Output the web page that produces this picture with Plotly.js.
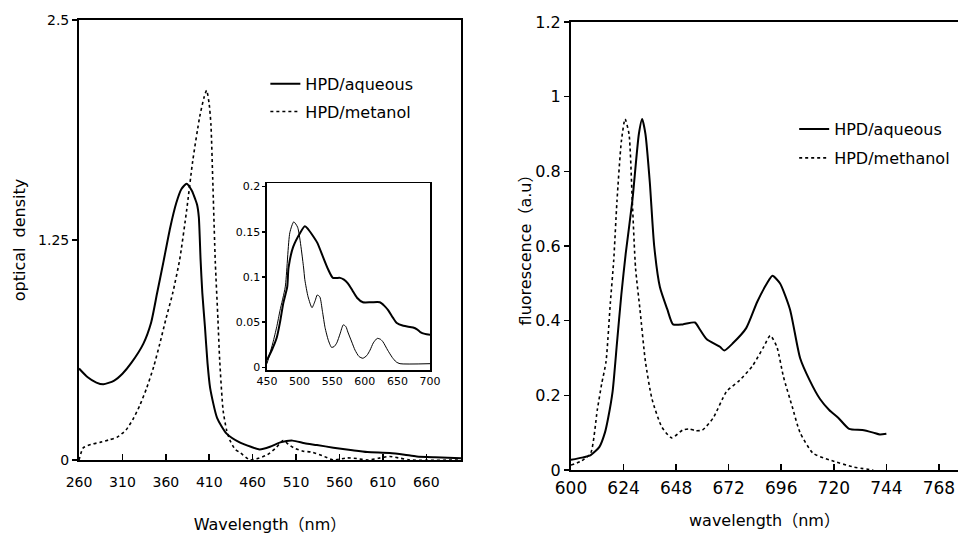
<!DOCTYPE html>
<html>
<head>
<meta charset="utf-8">
<script src="https://cdn.plot.ly/plotly-3.0.1.min.js"></script>
<style>html,body{margin:0;padding:0;background:#fff;overflow:hidden;}#chart{width:958px;height:534px;}</style>
</head>
<body>
<div id="chart"></div>
<script>
// ---- Absorption spectra (left panel) ----
const absWlAqueous = [260,270,280,288,300,310,320,334,343,350,357,365,372,378,384,390,394,396,398,400,402,405,408,411,419,430,445,458,468,480,492,506,520,534,553,575,592,618,635,649,670,700];
const absOdAqueous = [0.52,0.47,0.44,0.43,0.45,0.49,0.55,0.66,0.78,0.95,1.12,1.32,1.46,1.54,1.57,1.53,1.48,1.45,1.38,1.14,0.95,0.76,0.55,0.41,0.24,0.15,0.10,0.075,0.06,0.075,0.10,0.11,0.095,0.085,0.07,0.055,0.045,0.04,0.03,0.02,0.015,0.01];
const absWlMethanol = [260,265,275,284,295,304,314,322,330,338,346,353,360,368,376,384,391,399,404,407,410,412,414,417,420,422,426,430,434,440,446,457,467,477,487,495,501,507,518,528,540,553,569,580,592,605,618,630,641,700];
const absOdMethanol = [0.0,0.07,0.09,0.10,0.115,0.13,0.17,0.23,0.31,0.41,0.53,0.66,0.80,0.95,1.14,1.42,1.70,1.95,2.06,2.10,2.02,1.90,1.60,1.12,0.80,0.57,0.28,0.17,0.11,0.06,0.04,0.0,0.01,0.03,0.07,0.11,0.09,0.07,0.05,0.045,0.025,0.0,0.012,0.008,0.0,0.01,0.02,0.01,0.0,0.0];

// ---- Inset (450-700 nm zoom) ----
const insetWlAqueous = [450,458,465,470,475,481,483,490,501,508,513,519,527,536,544,551,562,568,574,581,588,597,610,623,630,636,643,649,659,674,680,685,692,700];
const insetOdAqueous = [0.008,0.02,0.033,0.05,0.071,0.089,0.11,0.133,0.149,0.156,0.153,0.147,0.138,0.122,0.108,0.099,0.099,0.097,0.093,0.085,0.077,0.072,0.072,0.072,0.068,0.063,0.055,0.049,0.046,0.044,0.042,0.039,0.037,0.036];
const insetWlMethanol = [450,459,465,470,478,485,491,497,506,508,513,519,524,527,531,535,539,544,549,553,557,562,567,571,574,580,585,591,597,603,608,613,619,624,628,635,642,648,654,700];
const insetOdMethanol = [0.004,0.027,0.045,0.063,0.089,0.149,0.161,0.155,0.111,0.097,0.078,0.066,0.074,0.080,0.078,0.062,0.044,0.030,0.022,0.023,0.027,0.037,0.047,0.045,0.039,0.028,0.019,0.012,0.010,0.013,0.019,0.027,0.032,0.031,0.028,0.019,0.011,0.006,0.004,0.004];

// ---- Fluorescence spectra (right panel) ----
const flWlAqueous = [600,605,609,613,615.5,617,619,621,623,625,628,631,632.5,634,636,638,640.6,644,646.6,651,656.6,659,662,668,670,674,680,685,689.5,692,695.4,700,704.6,709,713.7,718,722,727,733,738,741,744];
const flAqueous = [0.027,0.033,0.040,0.062,0.10,0.14,0.21,0.34,0.47,0.58,0.72,0.90,0.94,0.90,0.77,0.60,0.49,0.43,0.39,0.39,0.395,0.375,0.35,0.33,0.32,0.34,0.38,0.45,0.50,0.52,0.50,0.43,0.30,0.24,0.19,0.16,0.14,0.11,0.107,0.10,0.095,0.097];
const flWlMethanol = [600,605,609,612,614,616,618,619.5,621,623,624.7,626.5,628,629.5,631.5,634,637,641.5,646,651,654,657,660,665,671,677,683,688,691,694,697,701,704.6,710.5,718,729,738];
const flMethanol = [0.013,0.025,0.045,0.16,0.23,0.29,0.45,0.56,0.72,0.88,0.94,0.90,0.72,0.54,0.43,0.29,0.19,0.115,0.086,0.107,0.11,0.105,0.107,0.14,0.21,0.24,0.28,0.33,0.36,0.33,0.25,0.17,0.10,0.045,0.027,0.008,0.0];

// ---- Tick labels ----
const absTicks = [260,310,360,410,460,510,560,610,660];
const odTicks = [0,1.25,2.5];
const odTickText = ['0','1.25','2.5'];
const insetXTicks = [450,500,550,600,650,700];
const insetYTicks = [0,0.05,0.1,0.15,0.2];
const insetYTickText = ['0','0.05','0.1','0.15','0.2'];
const flTicks = [600,624,648,672,696,720,744,768];
const flYTicks = [0,0.2,0.4,0.6,0.8,1,1.2];

const FONT = 'DejaVu Sans, Liberation Sans, Noto Sans CJK JP, sans-serif';
const solid = {color:'#000', width:2, shape:'spline', smoothing:0.6};
const dotted = {color:'#000', width:1.6, dash:'dot', shape:'spline', smoothing:0.6};

const traces = [
  {x:absWlAqueous, y:absOdAqueous, type:'scatter', mode:'lines', name:'HPD/aqueous', line:solid, xaxis:'x', yaxis:'y', legend:'legend', legendgroup:'a1'},
  {x:absWlMethanol, y:absOdMethanol, type:'scatter', mode:'lines', name:'HPD/metanol', line:dotted, xaxis:'x', yaxis:'y', legend:'legend', legendgroup:'a2'},
  {x:insetWlAqueous, y:insetOdAqueous, type:'scatter', mode:'lines', name:'inset aqueous', line:{color:'#000', width:2, shape:'spline', smoothing:0.6}, xaxis:'x3', yaxis:'y3', showlegend:false},
  {x:insetWlMethanol, y:insetOdMethanol, type:'scatter', mode:'lines', name:'inset methanol', line:{color:'#000', width:1, shape:'spline', smoothing:0.6}, xaxis:'x3', yaxis:'y3', showlegend:false},
  {x:flWlAqueous, y:flAqueous, type:'scatter', mode:'lines', name:'HPD/aqueous', line:solid, xaxis:'x2', yaxis:'y2', legend:'legend2', legendgroup:'f1'},
  {x:flWlMethanol, y:flMethanol, type:'scatter', mode:'lines', name:'HPD/methanol', line:dotted, xaxis:'x2', yaxis:'y2', legend:'legend2', legendgroup:'f2'}
];

const axBase = {showgrid:false, zeroline:false, showline:true, linecolor:'#000', linewidth:2, tickcolor:'#000', tickwidth:1.5, automargin:false};

const layout = {
  width:958, height:534,
  margin:{l:0, r:0, t:0, b:0, autoexpand:false},
  paper_bgcolor:'#fff', plot_bgcolor:'#fff',
  font:{family:FONT, color:'#000'},
  xaxis: Object.assign({}, axBase, {
    domain:[0.0825,0.4812], range:[260,700], anchor:'y', mirror:true,
    tickvals:absTicks, ticks:'inside', ticklen:6, ticklabelstandoff:8,
    tickfont:{family:FONT, size:14},
    title:{text:'Wavelength（nm）', font:{family:FONT, size:16}, standoff:30}
  }),
  yaxis: Object.assign({}, axBase, {
    domain:[0.1386,0.9625], range:[0,2.5], anchor:'x', mirror:true,
    tickvals:odTicks, ticktext:odTickText, ticks:'outside', ticklen:5,
    tickfont:{family:FONT, size:14},
    title:{text:'optical  density', font:{family:FONT, size:16}, standoff:8}
  }),
  xaxis3: Object.assign({}, axBase, {
    domain:[0.2787,0.4489], range:[450,700], anchor:'y3', mirror:true, linewidth:1.5,
    tickvals:insetXTicks, ticks:'', tickfont:{family:FONT, size:11}
  }),
  yaxis3: Object.assign({}, axBase, {
    domain:[0.3071,0.6573], range:[-0.003,0.204], anchor:'x3', mirror:true, linewidth:1.5,
    tickvals:insetYTicks, ticktext:insetYTickText, ticks:'outside', ticklen:3, tickfont:{family:FONT, size:11}
  }),
  xaxis2: Object.assign({}, axBase, {
    domain:[0.596,1], range:[600,776.7], anchor:'y2', mirror:true,
    tickvals:flTicks, ticks:'inside', ticklen:6, ticklabelstandoff:2,
    tickfont:{family:FONT, size:17},
    title:{text:'wavelength（nm）', font:{family:FONT, size:16}, standoff:17}
  }),
  yaxis2: Object.assign({}, axBase, {
    domain:[0.1199,0.9588], range:[0,1.2], anchor:'x2', mirror:false,
    tickvals:flYTicks, ticks:'outside', ticklen:5,
    tickfont:{family:FONT, size:16},
    title:{text:'fluorescence（a.u）', font:{family:FONT, size:16}, standoff:0}
  }),
  legend:{x:0.277, y:0.875, xanchor:'left', yanchor:'top', bgcolor:'rgba(0,0,0,0)', font:{family:FONT, size:16}, traceorder:'grouped', tracegroupgap:4},
  legend2:{x:0.829, y:0.79, xanchor:'left', yanchor:'top', bgcolor:'rgba(0,0,0,0)', font:{family:FONT, size:16}, traceorder:'grouped', tracegroupgap:5}
};

Plotly.newPlot('chart', traces, layout, {staticPlot:true, displayModeBar:false});
</script>
</body>
</html>
